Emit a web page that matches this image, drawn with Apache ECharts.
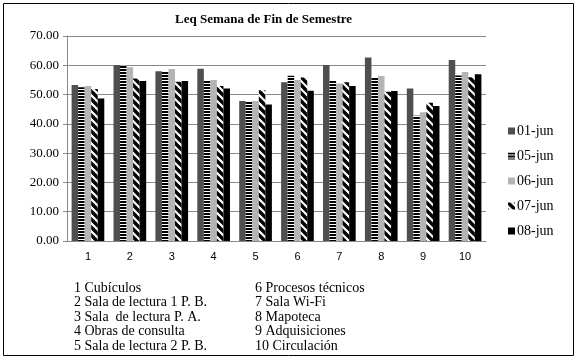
<!DOCTYPE html>
<html>
<head>
<meta charset="utf-8">
<script src="https://cdn.jsdelivr.net/npm/echarts@6/dist/echarts.min.js"></script>
<style>
html, body { margin: 0; padding: 0; background: #fff; }
#chart { width: 578px; height: 361px; }
</style>
</head>
<body>
<div id="chart"></div>
<script>
var categories = ['1', '2', '3', '4', '5', '6', '7', '8', '9', '10'];
var seriesNames = ['01-jun', '05-jun', '06-jun', '07-jun', '08-jun'];
var jun01 = [53.3, 60.1, 58.0, 58.8, 47.8, 54.2, 60.1, 62.7, 52.1, 61.8];
var jun05 = [52.5, 59.8, 58.0, 54.8, 47.8, 56.4, 54.7, 55.9, 42.8, 56.5];
var jun06 = [52.9, 59.3, 58.7, 55.0, 47.8, 55.0, 53.8, 56.3, 44.0, 57.7];
var jun07 = [51.9, 55.5, 54.4, 52.9, 51.5, 55.8, 54.2, 51.0, 47.2, 55.9];
var jun08 = [48.7, 54.6, 54.6, 52.1, 46.6, 51.3, 52.9, 51.2, 46.1, 56.9];
var placeNames = [
  '1 Cubículos', '2 Sala de lectura 1 P. B.', '3 Sala  de lectura P. A.',
  '4 Obras de consulta', '5 Sala de lectura 2 P. B.',
  '6 Procesos técnicos', '7 Sala Wi-Fi', '8 Mapoteca',
  '9 Adquisiciones', '10 Circulación'
];

// fill patterns
function hStripes() {
  var c = document.createElement('canvas');
  c.width = 6; c.height = 3;
  var g = c.getContext('2d');
  g.fillStyle = '#fff'; g.fillRect(0, 0, 6, 3);
  g.fillStyle = '#000'; g.fillRect(0, 0, 6, 2);
  return c;
}
function dStripes() {
  var s = 8;
  var c = document.createElement('canvas');
  c.width = s; c.height = s;
  var g = c.getContext('2d');
  g.fillStyle = '#fff'; g.fillRect(0, 0, s, s);
  g.strokeStyle = '#000'; g.lineWidth = 3.4;
  g.beginPath();
  g.moveTo(-2, -2); g.lineTo(s + 2, s + 2);
  g.moveTo(-2, s - 2); g.lineTo(2, s + 2);
  g.moveTo(s - 2, -2); g.lineTo(s + 2, 2);
  g.stroke();
  return c;
}

var fills = [
  '#4f4f4f',
  { image: hStripes(), repeat: 'repeat' },
  '#b4b4b4',
  { image: dStripes(), repeat: 'repeat' },
  '#000000'
];
var values = [jun01, jun05, jun06, jun07, jun08];

var serif = '"Liberation Serif", "Times New Roman", serif';

var series = seriesNames.map(function (n, i) {
  return {
    name: n,
    type: 'bar',
    barGap: '0%',
    barCategoryGap: '22%',
    itemStyle: { color: fills[i] },
    data: values[i]
  };
});

var texts = placeNames.map(function (t, i) {
  return {
    type: 'text',
    left: i < 5 ? 74 : 255,
    top: 281 + (i % 5) * 14.6,
    style: { text: t, font: '14px ' + serif, fill: '#000' }
  };
});
texts.push({
  type: 'rect',
  shape: { x: 3.5, y: 3.5, width: 570, height: 352 },
  style: { fill: null, stroke: '#000', lineWidth: 1 },
  silent: true
});

var chart = echarts.init(document.getElementById('chart'));
chart.setOption({
  animation: false,
  backgroundColor: '#fff',
  title: {
    text: 'Leq Semana de Fin de Semestre',
    left: 170,
    top: 8,
    textStyle: { fontFamily: serif, fontWeight: 'bold', fontSize: 13, color: '#000' }
  },
  legend: {
    orient: 'vertical',
    left: 503,
    top: 119,
    itemWidth: 7,
    itemHeight: 7,
    itemGap: 11,
    icon: 'rect',
    textStyle: { fontFamily: serif, fontSize: 14, lineHeight: 14, color: '#000', padding: [0, 0, 0, -3] },
    data: seriesNames
  },
  grid: { left: 67, right: 92, top: 36, bottom: 120 },
  xAxis: {
    type: 'category',
    data: categories,
    axisLine: { lineStyle: { color: '#888' } },
    axisTick: { length: 4, lineStyle: { color: '#888' } },
    axisLabel: { color: '#000', fontFamily: '"Liberation Sans", Arial, sans-serif', fontSize: 11, margin: 10 }
  },
  yAxis: {
    type: 'value',
    min: 0,
    max: 70,
    interval: 10,
    axisLine: { show: true, lineStyle: { color: '#888' } },
    axisTick: { show: true, length: 4, lineStyle: { color: '#888' } },
    splitLine: { lineStyle: { color: '#8a8a8a' } },
    axisLabel: {
      color: '#000', fontFamily: serif, fontSize: 13, margin: 8,
      formatter: function (v) { return v.toFixed(2); }
    }
  },
  graphic: texts,
  series: series
});
</script>
</body>
</html>
